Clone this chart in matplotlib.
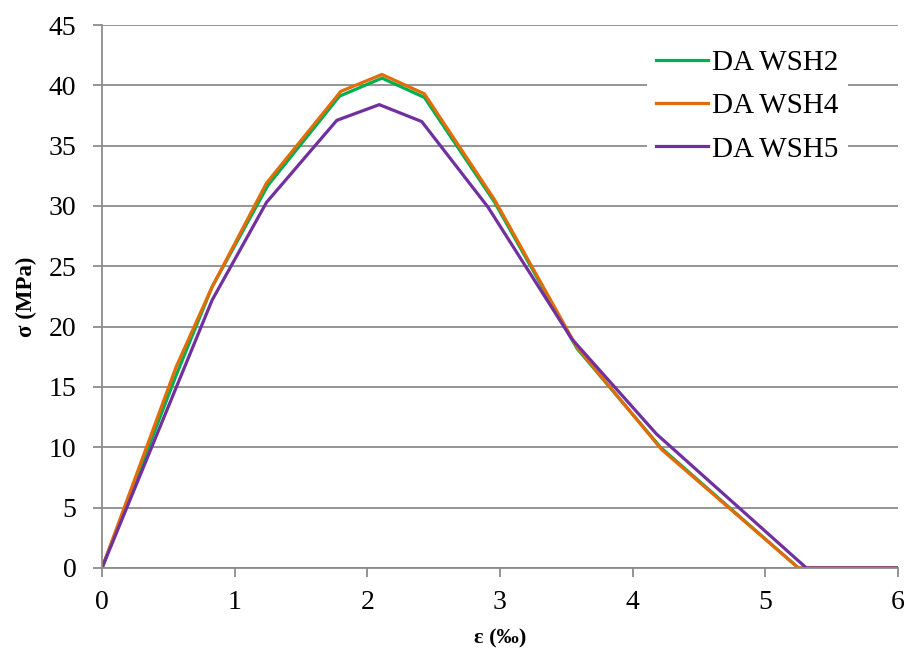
import numpy as np
import matplotlib
matplotlib.use("Agg")
import matplotlib.pyplot as plt

plt.rcParams['font.family'] = ['Liberation Serif', 'DejaVu Serif']

# strain (permille) / stress (MPa)
eps_wsh2 = [0, 0.56, 0.83, 1.25, 1.79, 2.11, 2.43, 2.96, 3.58, 4.21, 5.25, 6.0]
sig_wsh2 = [0, 16.0, 23.3, 31.7, 39.1, 40.6, 39.0, 30.3, 18.2, 10.0, 0, 0]

eps_wsh4 = [0, 0.56, 0.83, 1.24, 1.80, 2.11, 2.43, 2.96, 3.58, 4.22, 5.25, 6.0]
sig_wsh4 = [0, 16.7, 23.3, 31.9, 39.5, 40.9, 39.3, 30.5, 18.3, 9.8, 0, 0]

eps_wsh5 = [0, 0.83, 1.24, 1.77, 2.09, 2.41, 2.91, 3.54, 4.18, 5.31, 6.0]
sig_wsh5 = [0, 22.2, 30.3, 37.1, 38.4, 37.0, 29.9, 19.0, 11.1, 0, 0]

fig = plt.figure(figsize=(9.06, 6.58), dpi=100)
ax = fig.add_axes([0.1126, 0.1368, 0.8785, 0.8252])

gc = '#8c8c8c'
ax.plot(eps_wsh2, sig_wsh2, color='#00B050', lw=2.3, label='DA WSH2', solid_joinstyle='miter')
ax.plot(eps_wsh4, sig_wsh4, color='#E36C09', lw=2.3, label='DA WSH4', solid_joinstyle='miter')
ax.plot(eps_wsh5, sig_wsh5, color='#7030A0', lw=2.3, label='DA WSH5', solid_joinstyle='miter')

ax.set_xlim(0, 6)
ax.set_ylim(0, 45)
ax.set_xticks(np.arange(0, 7, 1))
ax.set_yticks(np.arange(0, 50, 5))
ax.yaxis.grid(True, color=gc, lw=1.3)
ax.set_axisbelow(True)
for s in ['top', 'right']:
    ax.spines[s].set_visible(False)
for s in ['left', 'bottom']:
    ax.spines[s].set_color(gc)
    ax.spines[s].set_linewidth(1.3)
ax.tick_params(axis='both', colors=gc, labelcolor='black', labelsize=20, width=1.3, length=6.5)
ax.tick_params(axis='y', pad=12)
ax.tick_params(axis='x', pad=9)

ax.set_xlabel('ε (‰)', fontsize=16, fontweight='bold', labelpad=10)
ax.set_ylabel('σ (MPa)', fontsize=16.5, fontweight='bold', labelpad=8)

leg = ax.legend(loc='upper right', bbox_to_anchor=(0.955, 0.998), fontsize=21, frameon=True,
                fancybox=False, edgecolor='none', facecolor='white', framealpha=1,
                handlelength=1.8, handletextpad=0.15, labelspacing=0.58, borderpad=0.3)

fig.savefig('out.png', dpi=100)
